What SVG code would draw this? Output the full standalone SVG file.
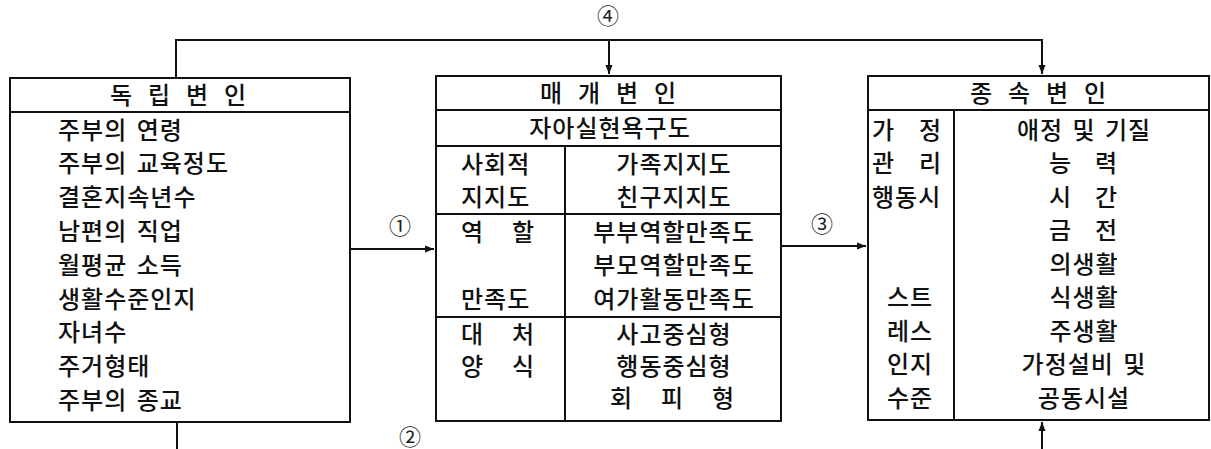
<svg xmlns="http://www.w3.org/2000/svg" width="1211" height="449" viewBox="0 0 1211 449">
<defs>
<marker id="ah" markerWidth="10" markerHeight="8" refX="9" refY="4" orient="auto" markerUnits="userSpaceOnUse">
<path d="M0,0.5 L9,4 L0,7.5 Z" fill="#111"/>
</marker>
</defs>
<style>
.box{fill:#fff;stroke:#111;stroke-width:2}
.ln{stroke:#111;stroke-width:2;fill:none}
.t{font-family:"Noto Sans CJK KR","Noto Sans CJK SC",sans-serif;font-size:24px;font-weight:500;fill:#111;letter-spacing:1px;word-spacing:3px}
.c{text-anchor:middle}
.n{font-family:"Noto Sans CJK KR","DejaVu Sans",sans-serif;font-size:22px;fill:#222;text-anchor:middle}
.con{stroke:#111;stroke-width:2;fill:none}
</style>
<rect width="1211" height="449" fill="#fff"/>

<g id="connectors">
<path class="con" d="M176,78 V40 H1042 V74" marker-end="url(#ah)"/>
<path class="con" d="M609,40 V74" marker-end="url(#ah)"/>
<path class="con" d="M350,249 H434" marker-end="url(#ah)"/>
<path class="con" d="M781,246 H866" marker-end="url(#ah)"/>
<path class="con" d="M177,422 V449"/>
<path class="con" d="M1042,449 V422" marker-end="url(#ah)"/>
<text class="n" x="400" y="234">①</text>
<text class="n" x="410" y="445">②</text>
<text class="n" x="822" y="232">③</text>
<text class="n" x="608" y="24">④</text>
</g>

<g id="independent">
<rect class="box" x="10" y="78" width="340" height="344"/>
<line class="ln" x1="10" y1="112" x2="350" y2="112"/>
<text class="t" x="110 148 186 224" y="104">독립변인</text>
<text class="t" x="58" y="139">주부의 연령</text>
<text class="t" x="58" y="172">주부의 교육정도</text>
<text class="t" x="58" y="206">결혼지속년수</text>
<text class="t" x="58" y="240">남편의 직업</text>
<text class="t" x="58" y="274">월평균 소득</text>
<text class="t" x="58" y="308">생활수준인지</text>
<text class="t" x="58" y="341">자녀수</text>
<text class="t" x="58" y="375">주거형태</text>
<text class="t" x="58" y="409">주부의 종교</text>
</g>

<g id="mediating">
<rect class="box" x="436" y="76" width="345" height="345"/>
<line class="ln" x1="436" y1="110" x2="781" y2="110"/>
<line class="ln" x1="436" y1="146" x2="781" y2="146"/>
<line class="ln" x1="565" y1="146" x2="565" y2="421"/>
<line class="ln" x1="436" y1="214" x2="781" y2="214"/>
<line class="ln" x1="436" y1="317" x2="781" y2="317"/>
<text class="t" x="540 578 616 654" y="102">매개변인</text>
<text class="t c" x="610" y="137">자아실현욕구도</text>
<text class="t" x="461" y="173">사회적</text>
<text class="t" x="461" y="206">지지도</text>
<text class="t c" x="674" y="173">가족지지도</text>
<text class="t c" x="674" y="206">친구지지도</text>
<text class="t" x="461 512" y="241">역할</text>
<text class="t" x="461" y="308">만족도</text>
<text class="t c" x="674" y="241">부부역할만족도</text>
<text class="t c" x="674" y="274">부모역할만족도</text>
<text class="t c" x="674" y="308">여가활동만족도</text>
<text class="t" x="461 512" y="343">대처</text>
<text class="t" x="461 512" y="375">양식</text>
<text class="t c" x="674" y="343">사고중심형</text>
<text class="t c" x="674" y="375">행동중심형</text>
<text class="t" x="610 661 712" y="407">회피형</text>
</g>

<g id="dependent">
<rect class="box" x="868" y="76" width="341" height="344"/>
<line class="ln" x1="868" y1="110" x2="1209" y2="110"/>
<line class="ln" x1="954" y1="110" x2="954" y2="420"/>
<text class="t" x="970 1008 1046 1084" y="102">종속변인</text>
<text class="t" x="872 919" y="139">가정</text>
<text class="t" x="872 919" y="172">관리</text>
<text class="t" x="872" y="206">행동시</text>
<text class="t c" x="910" y="306">스트</text>
<text class="t c" x="910" y="340">레스</text>
<text class="t c" x="910" y="373">인지</text>
<text class="t c" x="910" y="407">수준</text>
<text class="t c" x="1084" y="139">애정 및 기질</text>
<text class="t" x="1049 1095" y="172">능력</text>
<text class="t" x="1049 1095" y="206">시간</text>
<text class="t" x="1049 1095" y="239">금전</text>
<text class="t c" x="1084" y="273">의생활</text>
<text class="t c" x="1084" y="306">식생활</text>
<text class="t c" x="1084" y="340">주생활</text>
<text class="t c" x="1084" y="373">가정설비 및</text>
<text class="t c" x="1084" y="407">공동시설</text>
</g>
</svg>
